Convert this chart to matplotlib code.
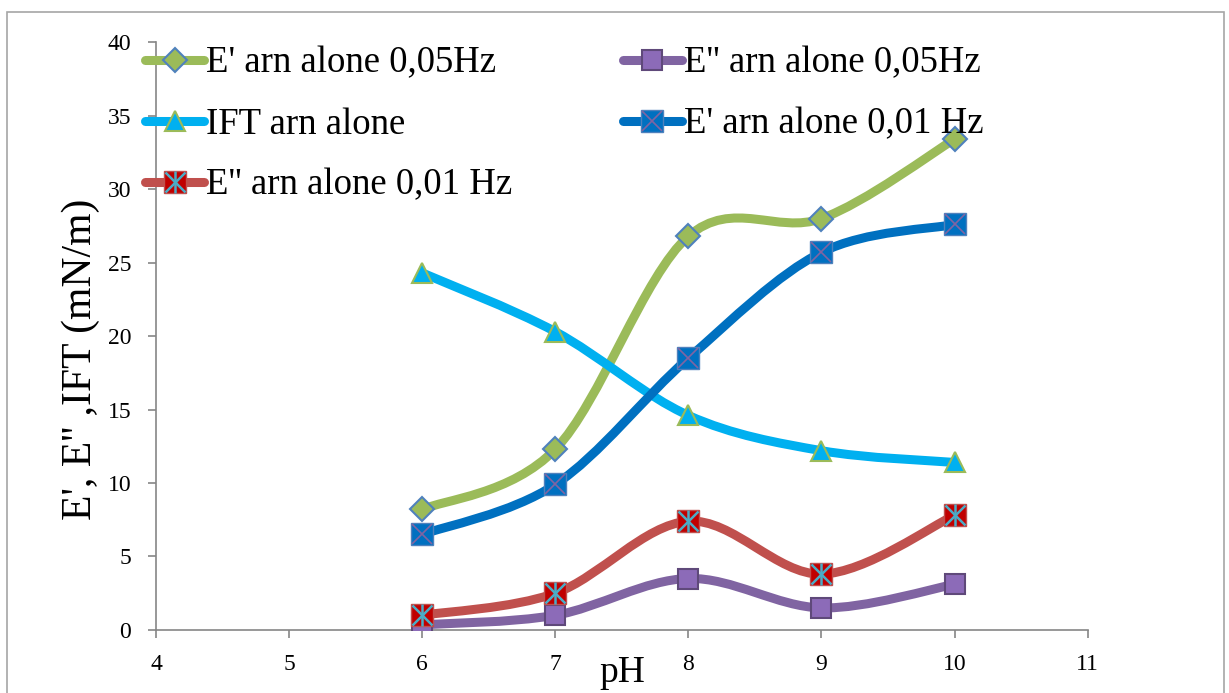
import numpy as np
import matplotlib
matplotlib.use("Agg")
import matplotlib.pyplot as plt
from matplotlib.path import Path
from matplotlib.patches import PathPatch, Rectangle
from matplotlib.lines import Line2D

plt.rcParams['font.family'] = ['Liberation Serif', 'DejaVu Serif']

# data
ph = [6, 7, 8, 9, 10]
e1_005 = [8.2, 12.3, 26.8, 28.0, 33.4]     # E' 0,05Hz
e2_005 = [0.35, 1.0, 3.5, 1.5, 3.1]        # E'' 0,05Hz
ift = [24.3, 20.3, 14.6, 12.2, 11.4]       # IFT
e1_001 = [6.5, 9.9, 18.5, 25.7, 27.6]      # E' 0,01 Hz
e2_001 = [1.0, 2.5, 7.4, 3.8, 7.8]         # E'' 0,01 Hz


def smooth_path(xs, ys):
    # Excel-like smoothed line: cubic bezier through the points
    pts = np.column_stack([xs, ys]).astype(float)
    n = len(pts)
    verts = [pts[0]]
    codes = [Path.MOVETO]
    for i in range(n - 1):
        p0 = pts[i - 1] if i > 0 else pts[i]
        p1, p2 = pts[i], pts[i + 1]
        p3 = pts[i + 2] if i + 2 < n else pts[i + 1]
        verts += [p1 + (p2 - p0) / 6, p2 - (p3 - p1) / 6, p2]
        codes += [Path.CURVE4] * 3
    return Path(verts, codes)


fig = plt.figure(figsize=(12.29, 6.93), dpi=100)
ax = fig.add_axes([0.127, 0.091, 0.758, 0.848])

fig.patches.append(Rectangle((0.006, -0.01), 0.99, 0.993, transform=fig.transFigure,
                             fill=False, edgecolor='#a6a6a6', lw=1.2))

lw = 6.5
ms = 15
series = [
    (e1_005, '#9BBB59'),
    (e2_005, '#8064A2'),
    (ift, '#00B0F0'),
    (e1_001, '#0070C0'),
    (e2_001, '#C0504D'),
]
for ys, col in series:
    ax.add_patch(PathPatch(smooth_path(ph, ys), fill=False, edgecolor=col, lw=lw,
                           capstyle='round', joinstyle='round', zorder=2))

# markers
ax.plot(ph, e1_005, ls='none', marker='D', ms=12, mfc='#9BBB59', mec='#4F81BD', mew=1.5, zorder=4)
ax.plot(ph, e2_005, ls='none', marker='s', ms=ms, mfc='#8C6BB8', mec='#5F497A', mew=1.5, zorder=4)
ax.plot(ph, ift, ls='none', marker='^', ms=ms, mfc='#00B0F0', mec='#9BBB59', mew=1.5, zorder=4)
ax.plot(ph, e1_001, ls='none', marker='s', ms=ms + 1, mfc='#0070C0', mec='#4F81BD', mew=1, zorder=4)
ax.plot(ph, e1_001, ls='none', marker='x', ms=ms - 1, mec='#8064A2', mew=1.2, zorder=5)
ax.plot(ph, e2_001, ls='none', marker='s', ms=ms + 1, mfc='#C00000', mec='#C0504D', mew=1, zorder=4)
ax.plot(ph, e2_001, ls='none', marker='x', ms=ms - 1, mec='#4BACC6', mew=1.8, zorder=5)
ax.plot(ph, e2_001, ls='none', marker='|', ms=ms + 1, mec='#4BACC6', mew=1.8, zorder=5)

ax.set_xlim(4, 11)
ax.set_ylim(0, 40)
ax.set_xticks(range(4, 12))
ax.set_yticks(range(0, 41, 5))
for s in ['top', 'right']:
    ax.spines[s].set_visible(False)
for s in ['left', 'bottom']:
    ax.spines[s].set_color('#868686')
    ax.spines[s].set_linewidth(1.2)
ax.tick_params(colors='#868686', labelcolor='black', labelsize=17, length=6, width=1.2)
ax.tick_params(axis='y', pad=12)
ax.tick_params(axis='x', pad=11)

ax.set_xlabel('pH', fontsize=27, labelpad=-14)
ax.set_ylabel("E', E'' ,IFT (mN/m)", fontsize=30)
ax.yaxis.set_label_coords(-0.060, 0.46)


def proxy(col, **kw):
    return Line2D([], [], color=col, lw=lw, solid_capstyle='round', **kw)


h_e1_005 = proxy('#9BBB59', marker='D', ms=12, mfc='#9BBB59', mec='#4F81BD', mew=1.5)
h_e2_005 = proxy('#8064A2', marker='s', ms=ms, mfc='#8C6BB8', mec='#5F497A', mew=1.5)
h_ift = proxy('#00B0F0', marker='^', ms=ms, mfc='#00B0F0', mec='#9BBB59', mew=1.5)
h_e1_001 = (proxy('#0070C0', marker='s', ms=ms + 1, mfc='#0070C0', mec='#4F81BD', mew=1),
            Line2D([], [], ls='none', marker='x', ms=ms - 1, mec='#8064A2', mew=1.2))
h_e2_001 = (proxy('#C0504D', marker='s', ms=ms + 1, mfc='#C00000', mec='#C0504D', mew=1),
            Line2D([], [], ls='none', marker='x', ms=ms - 1, mec='#4BACC6', mew=1.8),
            Line2D([], [], ls='none', marker='|', ms=ms + 1, mec='#4BACC6', mew=1.8))

handles = [h_e1_005, h_ift, h_e2_001, h_e2_005, h_e1_001]
labels = ["E' arn alone 0,05Hz", "IFT arn alone", "E'' arn alone 0,01 Hz",
          "E'' arn alone 0,05Hz", "E' arn alone 0,01 Hz"]
ax.legend(handles, labels, ncol=2, frameon=False, fontsize=26.5,
          loc='upper left', bbox_to_anchor=(-0.047, 1.050),
          handlelength=1.6, handletextpad=0.05, columnspacing=3.0, labelspacing=0.72)

fig.savefig('out.png', dpi=100)
